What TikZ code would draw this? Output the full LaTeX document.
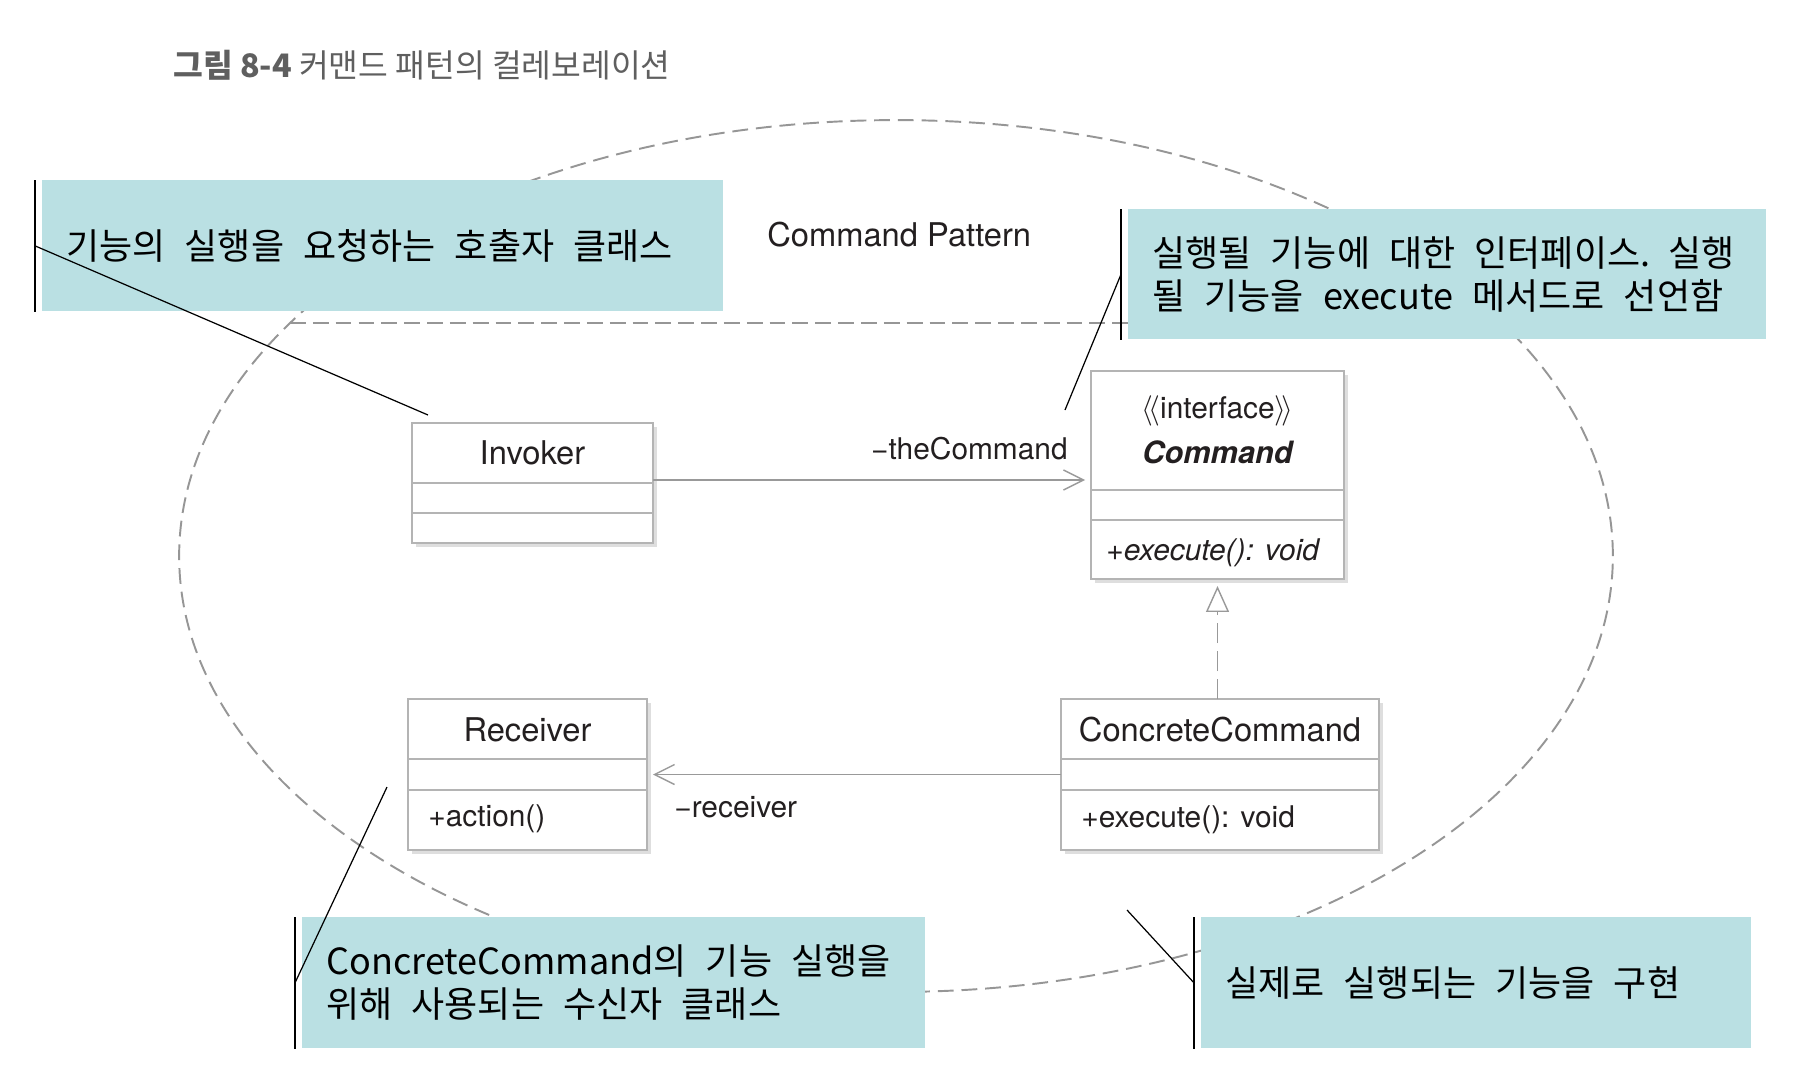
\documentclass[tikz,border=0pt]{standalone}
\usepackage{fontspec}
\setmainfont{Noto Sans CJK KR}
\newfontfamily\umlfont{TeX Gyre Heros}
\usetikzlibrary{arrows.meta,shadows}
\definecolor{nteal}{RGB}{186,224,227}
\definecolor{ngray}{RGB}{150,150,150}
\definecolor{nline}{RGB}{180,180,180}
\definecolor{ntext}{RGB}{35,31,32}
\definecolor{ntitle}{RGB}{95,95,95}

\begin{document}
\begin{tikzpicture}[x=0.02cm, y=-0.02cm,
    note/.style={fill=nteal, anchor=north west, inner xsep=0.48cm, inner ysep=0pt,
        align=left, font=\fontsize{20.5}{24.5}\selectfont,
        execute at begin node={\spaceskip=0.53em\relax}},
    bar/.style={line width=1.2pt},
    leader/.style={line width=0.7pt},
    umlbox/.style={draw=nline, line width=0.9pt, fill=white, inner sep=0pt, outer sep=0pt,
        drop shadow={shadow xshift=0.08cm, shadow yshift=-0.08cm, fill=black!13, opacity=1}},
    umltext/.style={text=ntext, inner sep=0pt, font=\umlfont\fontsize{17}{20}\selectfont},
    umlname/.style={umltext, font=\umlfont\fontsize{18.6}{22}\selectfont},
    assoc/.style={draw=nline!85!black, line width=0.8pt}]
    \useasboundingbox (0,0) rectangle (1798,1066);

    \node[anchor=west, inner sep=0pt, text=ntitle, font=\fontsize{18.4}{21}\selectfont] (title) at (173,65)
        {\textbf{그림 8-4} 커맨드 패턴의 컬레보레이션};

    % collaboration
    \draw [ngray, line width=1.1pt, dash pattern=on 9pt off 4.5pt] (896,556)
        ellipse [x radius=14.34cm, y radius=8.72cm];
    \draw [ngray, line width=1.1pt, dash pattern=on 9pt off 4pt] (290,323) -- (1502,323);
    \node[umlname, anchor=west] (pname) at (767,235) {Command Pattern};

    % notes
    \node[note, minimum width=13.62cm, minimum height=2.62cm, text width=12.66cm] (tl) at (42,180)
        {기능의 실행을 요청하는 호출자 클래스};
    \node[note, minimum width=12.76cm, minimum height=2.60cm, text width=11.8cm] (tr) at (1128,209)
        {실행될 기능에 대한 인터페이스. 실행\\될 기능을 execute 메서드로 선언함};
    \node[note, minimum width=12.46cm, minimum height=2.62cm, text width=11.5cm] (bl) at (302,917)
        {ConcreteCommand의 기능 실행을\\위해 사용되는 수신자 클래스};
    \node[note, minimum width=11.0cm, minimum height=2.62cm, text width=10.04cm] (br) at (1201,917)
        {실제로 실행되는 기능을 구현};

    % classes
    \node[umlbox, minimum width=4.82cm, minimum height=2.40cm] (inv) at (532.5,483) {};
    \node[umlbox, minimum width=5.06cm, minimum height=4.16cm] (cmd) at (1217.5,475) {};
    \node[umlbox, minimum width=4.78cm, minimum height=3.02cm] (rcv) at (527.5,774.5) {};
    \node[umlbox, minimum width=6.36cm, minimum height=3.02cm] (ccmd) at (1220,774.5) {};
    \foreach \n/\d in {inv/1.2, inv/1.8, cmd/2.38, cmd/2.98, rcv/1.2, rcv/1.82, ccmd/1.2, ccmd/1.82}
        \draw [nline, line width=0.9pt] ([yshift=-\d cm]\n.north west) -- ([yshift=-\d cm]\n.north east);

    \node[umlname] (invname) at (532.5,453) {Invoker};
    \node[umltext, font=\umlfont\fontsize{17}{20}\selectfont] (cmdst) at (1217.5,411)
        {$\langle\!\langle$interface$\rangle\!\rangle$};
    \node[umltext, font=\umlfont\fontsize{17.5}{20}\selectfont] (cmdname) at (1217.5,452)
        {\bfseries\itshape Command};
    \node[umltext, anchor=west] (cmdop) at (1106,553) {\itshape +execute(): void};
    \node[umlname] (rcvname) at (527.5,730) {Receiver};
    \node[umltext, anchor=west] (rcvop) at (428,819) {+action()};
    \node[umlname] (ccmdname) at (1220,730) {ConcreteCommand};
    \node[umltext, anchor=west] (ccmdop) at (1081,820) {+execute(): void};
    \node[umltext, anchor=east] (lcmd) at (1068,449) {−theCommand};
    \node[umltext, anchor=west] (lrcv) at (674,807) {−receiver};

    \draw [assoc, -{Straight Barb[length=0.4cm, width=0.4cm]}, shorten >=0.12cm]
        ([yshift=0.06cm]inv.east) -- ([yshift=0.06cm]inv.east -| cmd.west);
    \draw [assoc, -{Straight Barb[length=0.4cm, width=0.4cm]}, shorten >=0.12cm]
        (ccmd.west) -- (rcv.east);
    \draw [assoc, dash pattern=on 0.4cm off 0.16cm,
        -{Triangle[open, fill=white, length=0.52cm, width=0.46cm]}, shorten >=0.14cm]
        (cmd.south |- ccmd.north) -- (cmd.south);

    % leaders
    \coordinate (tlend) at (428,415);
    \coordinate (trend) at (1065,410);
    \coordinate (blend) at (387,787);
    \coordinate (brend) at (1127,910);
    \foreach \n in {tl, tr, bl, br}
        \draw [bar] ([xshift=-0.14cm]\n.north west) -- ([xshift=-0.14cm]\n.south west);
    \draw [leader] ([xshift=-0.14cm]tl.west) -- (tlend);
    \draw [leader] ([xshift=-0.14cm]tr.west) -- (trend);
    \draw [leader] ([xshift=-0.14cm]bl.west) -- (blend);
    \draw [leader] ([xshift=-0.14cm]br.west) -- (brend);
\end{tikzpicture}
\end{document}
